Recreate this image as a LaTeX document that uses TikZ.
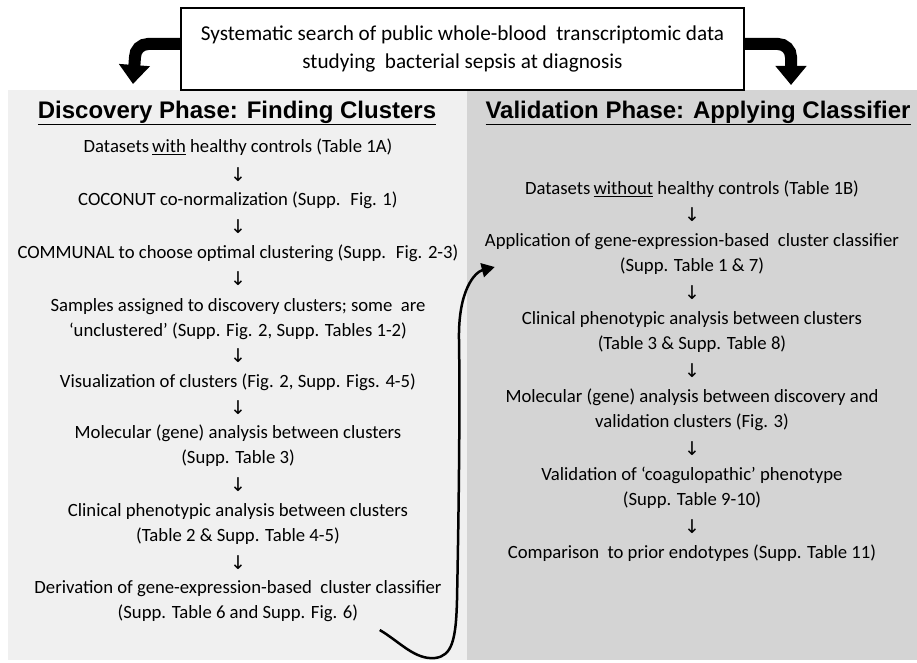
\documentclass[tikz,border=0pt]{standalone}
\usepackage{fontspec}
\setmainfont{Carlito}
\newfontfamily\titlefont{Liberation Sans}
\newfontfamily\arrowfont{DejaVu Sans}
\usetikzlibrary{arrows.meta}
\definecolor{leftbg}{RGB}{240,240,240}
\definecolor{rightbg}{RGB}{212,212,212}
\tikzset{
  txt/.style={font=\fontsize{18.7}{25}\selectfont, align=center, inner sep=0pt, text=black},
  toptxt/.style={font=\fontsize{21.2}{28}\selectfont, align=center, inner sep=0pt, text=black},
  dn/.style={font=\arrowfont\fontsize{19}{19}\selectfont, inner sep=0pt},
  ttl/.style={font=\titlefont\bfseries\fontsize{24}{26}\selectfont, inner sep=0pt},
  blockarrow/.style={line width=12pt, -{Triangle[width=30pt,length=19pt]}},
  conn/.style={line width=2.5pt, -{Triangle[width=14pt,length=13pt]}},
}
\begin{document}
\begin{tikzpicture}[x=1pt,y=-1pt]
\useasboundingbox (0,0) rectangle (917,663);
% panels
\fill[leftbg] (8,90) rectangle (467,660);
\fill[rightbg] (467,90) rectangle (917,660);
% bend points of the block arrows
\coordinate (lbend) at (135,44);
\coordinate (rbend) at (791,44);
% top box
\node[draw, line width=2pt, fill=white, minimum width=563pt, minimum height=82pt, inner sep=0pt] (top) at (462.5,49) {};
\node[toptxt] (toptext) at (top.center) {Systematic search of public whole-blood~ transcriptomic data\\studying~ bacterial sepsis at diagnosis};
\draw[blockarrow] (top.west |- lbend) -- ([xshift=13pt]lbend) to[out=180,in=90] ([yshift=-13pt]lbend) -- (133,84);
\draw[blockarrow] (top.east |- rbend) -- ([xshift=-13pt]rbend) to[out=0,in=90] ([yshift=-13pt]rbend) -- (791,85);
% titles
\node[ttl] (lt) at (237,113) {\underline{Discovery Phase: Finding Clusters}};
\node[ttl] (rt) at (698,113) {\underline{Validation Phase: Applying Classifier}};
% left column
\node[txt] (d1) at (238,147) {Datasets\,\underline{with} healthy controls (Table 1A)};
\node[dn] (la1) at (238,175) {↓};
\node[txt] (d2) at (238,200) {COCONUT co-normalization (Supp.~ Fig. 1)};
\node[dn] (la2) at (238,227) {↓};
\node[txt] (d3) at (238,253) {COMMUNAL to choose optimal clustering (Supp.~ Fig. 2-3)};
\node[dn] (la3) at (238,279) {↓};
\node[txt] (d4) at (238,319) {Samples assigned to discovery clusters; some~ are\\‘unclustered’ (Supp. Fig. 2, Supp. Tables 1-2)};
\node[dn] (la4) at (238,356) {↓};
\node[txt] (d5) at (238,382) {Visualization of clusters (Fig. 2, Supp. Figs. 4-5)};
\node[dn] (la5) at (238,408) {↓};
\node[txt] (d6) at (238,446) {Molecular (gene) analysis between clusters\\(Supp. Table 3)};
\node[dn] (la6) at (238,485) {↓};
\node[txt] (d7) at (238,524) {Clinical phenotypic analysis between clusters\\(Table 2 \& Supp. Table 4-5)};
\node[dn] (la7) at (238,563) {↓};
\node[txt] (d8) at (238,601) {Derivation of gene-expression-based~ cluster classifier\\(Supp. Table 6 and Supp. Fig. 6)};
% right column
\node[txt] (v1) at (692,189) {Datasets\,\underline{without} healthy controls (Table 1B)};
\node[dn] (ra1) at (692,215) {↓};
\node[txt] (v2) at (692,254) {Application of gene-expression-based~ cluster classifier\\(Supp. Table 1 \& 7)};
\node[dn] (ra2) at (692,293) {↓};
\node[txt] (v3) at (692,332) {Clinical phenotypic analysis between clusters\\(Table 3 \& Supp. Table 8)};
\node[dn] (ra3) at (692,371) {↓};
\node[txt] (v4) at (692,410) {Molecular (gene) analysis between discovery and\\validation clusters (Fig. 3)};
\node[dn] (ra4) at (692,449) {↓};
\node[txt] (v5) at (692,488) {Validation of ‘coagulopathic’ phenotype\\(Supp. Table 9-10)};
\node[dn] (ra5) at (692,527) {↓};
\node[txt] (v6) at (692,553) {Comparison~ to prior endotypes (Supp. Table 11)};
% connector
\coordinate (cs) at ([xshift=-62pt,yshift=-29pt]d8.east);
\coordinate (ce) at ([xshift=10pt,yshift=-13pt]v2.west);
\draw[conn] (cs) .. controls (400,642) and (415,660) .. (435,658)
  .. controls (452,656) and (456,640) .. (457,600)
  .. controls (459,500) and (460,400) .. (459,340)
  .. controls (458,290) and (475,272) .. (ce);
\end{tikzpicture}
\end{document}
